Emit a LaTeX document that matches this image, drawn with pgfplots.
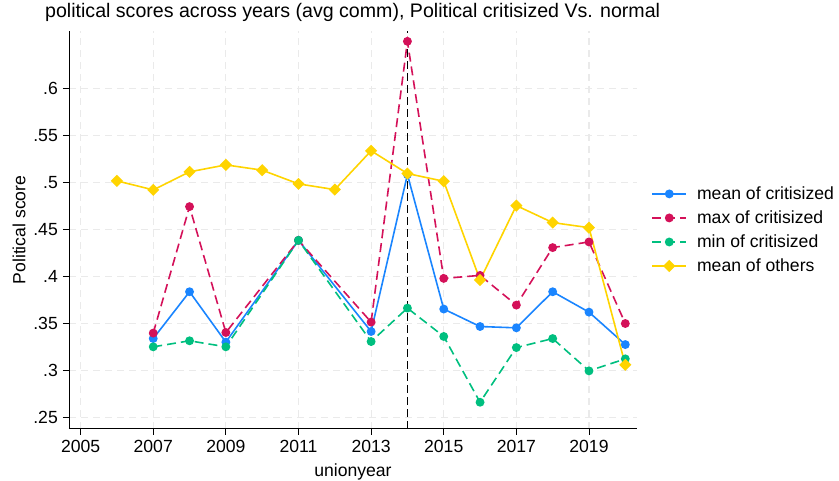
\documentclass[border=0pt]{standalone}
\usepackage{pgfplots}
\pgfplotsset{compat=1.18}
\usepackage{fontspec}
\setmainfont{Liberation Sans}
\definecolor{sblue}{RGB}{26,133,255}
\definecolor{sred}{RGB}{212,17,89}
\definecolor{sgreen}{RGB}{0,191,127}
\definecolor{syellow}{RGB}{255,212,0}
\definecolor{sgrid}{RGB}{234,234,234}
\newcommand{\lf}{\fontsize{17.6}{21}\selectfont}
\begin{document}
\begin{tikzpicture}
\begin{axis}[
  scale only axis,
  width=568pt, height=398pt,
  xmin=2004.68, xmax=2020.32,
  ymin=0.238, ymax=0.6615,
  axis x line*=bottom, axis y line*=left,
  axis line style={black, line width=0.9pt, -},
  tick align=outside,
  major tick length=6pt,
  tick style={black, line width=0.9pt},
  xtick={2005,2007,2009,2011,2013,2015,2017,2019},
  xticklabels={2005,2007,2009,2011,2013,2015,2017,2019},
  ytick={0.25,0.3,0.35,0.4,0.45,0.5,0.55,0.6},
  yticklabels={.25,.3,.35,.4,.45,.5,.55,.6},
  /pgf/number format/assume math mode=true,
  ticklabel style={font=\lf, inner sep=0pt},
  yticklabel style={anchor=east, xshift=-5pt},
  xticklabel style={anchor=north, yshift=-5pt},
  grid=major,
  grid style={sgrid, line width=1.2pt, dash pattern=on 7pt off 5pt},
  title={political scores across years (avg comm), Political critisized Vs. normal},
  title style={font=\fontsize{19.6}{23}\selectfont, at={(axis description cs:-0.0423,1.0193)}, anchor=base west, inner sep=0pt},
  xlabel={unionyear},
  xlabel style={font=\lf, at={(axis description cs:0.5,-0.119)}, anchor=base, inner sep=0pt},
  ylabel={Political score},
  ylabel style={font=\lf, at={(axis description cs:-0.088,0.5)}, anchor=center, inner sep=0pt},
  legend style={draw=none, fill=none, at={(1.02,0.5)}, anchor=west, font=\lf, row sep=5.8pt, nodes={inner sep=2pt}},
  legend cell align=left,
  legend image code/.code={\draw[mark repeat=2,mark phase=2,#1] plot coordinates {(0pt,0pt) (17pt,0pt) (34pt,0pt)}; \path (42pt,0pt);},
]
\draw[black, line width=1.6pt, dash pattern=on 8pt off 4pt] (axis cs:2014,0.238) -- (axis cs:2014,0.6615);
\addplot[sblue, line width=1.6pt, mark=*, mark size=3.6pt, mark options={solid}] coordinates {
(2007,0.3342) (2008,0.384) (2009,0.3304) (2011,0.4387) (2013,0.3417) (2014,0.5087) (2015,0.3656) (2016,0.347) (2017,0.3456) (2018,0.384) (2019,0.3623) (2020,0.3278)};
\addlegendentry{mean of critisized}
\addplot[sred, line width=1.6pt, dash pattern=on 9pt off 5pt, mark=*, mark size=3.6pt, mark options={solid}] coordinates {
(2007,0.340) (2008,0.4746) (2009,0.3406) (2011,0.4387) (2013,0.3517) (2014,0.6505) (2015,0.3982) (2016,0.4014) (2017,0.3698) (2018,0.431) (2019,0.437) (2020,0.3502)};
\addlegendentry{max of critisized}
\addplot[sgreen, line width=1.6pt, dash pattern=on 9pt off 5pt, mark=*, mark size=3.6pt, mark options={solid}] coordinates {
(2007,0.3254) (2008,0.3318) (2009,0.3254) (2011,0.4387) (2013,0.331) (2014,0.3666) (2015,0.3364) (2016,0.2664) (2017,0.3246) (2018,0.3342) (2019,0.2998) (2020,0.3126)};
\addlegendentry{min of critisized}
\addplot[syellow, line width=1.6pt, mark=square*, mark size=3.5pt, mark options={solid, rotate=45}] coordinates {
(2006,0.502) (2007,0.4924) (2008,0.5116) (2009,0.519) (2010,0.5134) (2011,0.4988) (2012,0.4927) (2013,0.534) (2014,0.5098) (2015,0.5016) (2016,0.3965) (2017,0.4757) (2018,0.4576) (2019,0.4522) (2020,0.3062)};
\addlegendentry{mean of others}
\end{axis}
\path ([xshift=-69pt,yshift=-52pt]current axis.south west) rectangle ([xshift=202pt,yshift=31pt]current axis.north east);
\end{tikzpicture}
\end{document}
